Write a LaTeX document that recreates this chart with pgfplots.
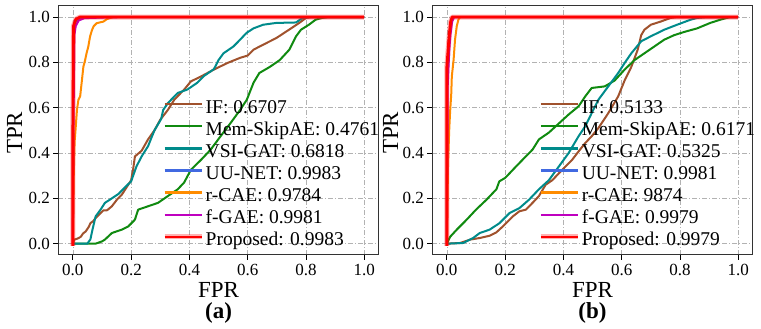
\documentclass[border=0pt]{standalone}
\usepackage{pgfplots}
\pgfplotsset{compat=1.18}
\usepackage{fontspec}
\setmainfont{Liberation Serif}
\definecolor{cIF}{HTML}{A0522D}
\definecolor{cMem}{HTML}{108A10}
\definecolor{cVSI}{HTML}{008B8B}
\definecolor{cUU}{HTML}{4169E1}
\definecolor{cCAE}{HTML}{FF8C00}
\definecolor{cGAE}{HTML}{BF00BF}
\definecolor{cPro}{HTML}{FF0000}
\pgfplotsset{
  rocax/.style={
    anchor=south west, scale only axis, width=320.5pt, height=249.3pt,
    xmin=-0.05, xmax=1.05, ymin=-0.05, ymax=1.05,
    xtick={0,0.2,0.4,0.6,0.8,1.0}, ytick={0,0.2,0.4,0.6,0.8,1.0},
    /pgf/number format/.cd, fixed, fixed zerofill, precision=1, assume math mode=true, /pgfplots/.cd,
    tick label style={font=\fontsize{17}{17}\selectfont},
    xticklabel style={anchor=base, yshift=-16pt},
    yticklabel style={anchor=east, xshift=0pt},
    tick align=outside, major tick length=5pt,
    xtick pos=bottom, ytick pos=left,
    tick style={black, line width=0.8pt},
    axis line style={black!80, line width=1pt},
    grid=major,
    grid style={black!30, line width=0.7pt, dash pattern=on 5pt off 2pt on 1pt off 2pt},
    xlabel={FPR}, ylabel={TPR},
    label style={font=\fontsize{23}{23}\selectfont},
    xlabel style={at={(axis description cs:0.5,-0.171)}, anchor=base, text depth=0pt},
    legend style={draw=none, fill=none, anchor=north west,
      font=\fontsize{19.5}{19.5}\selectfont, row sep=5.1pt, inner sep=0pt,
      nodes={inner sep=0pt, text height=13pt, text depth=4pt},
      /tikz/every odd column/.append style={column sep=1.5pt}},
    legend cell align=left,
    legend image code/.code={\draw[##1, line width=2.3pt] (0pt,4.5pt) -- (37pt,4.5pt);},
  },
  cv/.style={#1, line width=2pt, line join=round},
  pro/.style={cPro, line width=2.8pt, line join=round, preaction={draw, cPro, opacity=0.3, line width=5pt}},
  sublabel/.style={after end axis/.code={\node[anchor=base, text height=14pt, font=\fontsize{23}{23}\selectfont\bfseries] at (axis description cs:0.5,-0.253) {#1};}},
}
\begin{document}
\begin{tikzpicture}
\useasboundingbox (0pt,0pt) rectangle (761pt,329pt);
% ---------------- (a)
\begin{axis}[rocax, at={(58.3pt,74pt)},
  ylabel style={at={(axis description cs:-0.113,0.49)}, anchor=base},
  legend style={at={(axis description cs:0.3236,0.6217)}},
  sublabel={(a)}]
\addplot[cv=cIF] coordinates {(0,0) (0.005,0.018) (0.015,0.022) (0.027,0.03) (0.035,0.045) (0.044,0.054) (0.055,0.075) (0.06,0.09) (0.07,0.1) (0.078,0.113) (0.095,0.135) (0.105,0.147) (0.117,0.147) (0.134,0.165) (0.151,0.194) (0.168,0.216) (0.185,0.25) (0.2,0.28) (0.207,0.33) (0.213,0.385) (0.236,0.41) (0.258,0.46) (0.28,0.5) (0.3,0.547) (0.326,0.59) (0.348,0.635) (0.382,0.68) (0.405,0.716) (0.44,0.738) (0.484,0.768) (0.53,0.797) (0.574,0.82) (0.6,0.83) (0.62,0.856) (0.664,0.885) (0.698,0.907) (0.743,0.945) (0.777,0.974) (0.8,0.996) (0.82,1) (1,1)};
\addlegendentry{IF: 0.6707}
\addplot[cv=cMem] coordinates {(0,0) (0.078,0) (0.1,0.01) (0.11,0.018) (0.134,0.047) (0.168,0.062) (0.19,0.076) (0.213,0.106) (0.224,0.15) (0.258,0.165) (0.292,0.18) (0.326,0.21) (0.36,0.24) (0.382,0.27) (0.405,0.326) (0.44,0.37) (0.473,0.415) (0.507,0.474) (0.54,0.53) (0.574,0.59) (0.597,0.635) (0.62,0.71) (0.64,0.753) (0.676,0.78) (0.71,0.81) (0.743,0.856) (0.766,0.915) (0.783,0.944) (0.81,0.966) (0.833,0.988) (0.855,0.996) (0.878,1) (1,1)};
\addlegendentry{Mem-SkipAE: 0.4761}
\addplot[cv=cVSI] coordinates {(0,0) (0.05,0) (0.055,0.01) (0.06,0.018) (0.067,0.06) (0.078,0.12) (0.095,0.15) (0.11,0.18) (0.134,0.2) (0.157,0.22) (0.18,0.25) (0.2,0.275) (0.218,0.34) (0.236,0.385) (0.258,0.43) (0.28,0.5) (0.303,0.55) (0.31,0.59) (0.326,0.62) (0.36,0.665) (0.393,0.68) (0.427,0.71) (0.45,0.74) (0.484,0.77) (0.5,0.81) (0.517,0.84) (0.551,0.87) (0.574,0.9) (0.596,0.93) (0.62,0.95) (0.653,0.966) (0.698,0.974) (0.766,0.976) (0.788,0.996) (0.81,1) (1,1)};
\addlegendentry{VSI-GAT: 0.6818}
\addplot[cv=cUU] coordinates {(0,0) (0,0.5) (0.002,0.95) (0.01,0.98) (0.03,0.995) (0.05,0.998) (0.13,1) (1,1)};
\addlegendentry{UU-NET: 0.9983}
\addplot[cv=cCAE] coordinates {(0,0) (0.003,0.3) (0.006,0.45) (0.009,0.5) (0.014,0.59) (0.019,0.635) (0.025,0.65) (0.031,0.72) (0.036,0.78) (0.042,0.81) (0.047,0.84) (0.053,0.87) (0.059,0.914) (0.065,0.94) (0.071,0.959) (0.082,0.973) (0.105,0.98) (0.117,0.991) (0.134,0.998) (0.14,1) (1,1)};
\addlegendentry{r-CAE: 0.9784}
\addplot[cv=cGAE] coordinates {(0,0) (0.002,0.5) (0.005,0.92) (0.01,0.96) (0.02,0.985) (0.04,0.995) (0.13,0.999) (1,1)};
\addlegendentry{f-GAE: 0.9981}
\addplot[pro] coordinates {(0,-0.01) (0,0.5) (0.002,0.96) (0.01,0.99) (0.025,1) (1,1)};
\addlegendentry{Proposed: 0.9983}
\end{axis}
% ---------------- (b)
\begin{axis}[rocax, at={(432.3pt,74pt)},
  ylabel style={at={(axis description cs:-0.107,0.49)}, anchor=base},
  legend style={at={(axis description cs:0.33,0.6217)}},
  sublabel={(b)}]
\addplot[cv=cIF] coordinates {(0,0) (0.045,0.003) (0.08,0.018) (0.113,0.025) (0.147,0.035) (0.17,0.05) (0.192,0.076) (0.226,0.12) (0.249,0.143) (0.271,0.15) (0.294,0.18) (0.316,0.21) (0.339,0.26) (0.362,0.28) (0.384,0.31) (0.407,0.34) (0.43,0.37) (0.452,0.407) (0.475,0.444) (0.497,0.474) (0.52,0.51) (0.554,0.576) (0.588,0.65) (0.61,0.72) (0.633,0.78) (0.655,0.856) (0.667,0.92) (0.678,0.944) (0.7,0.966) (0.734,0.98) (0.768,0.996) (0.79,1) (1,1)};
\addlegendentry{IF: 0.5133}
\addplot[cv=cMem] coordinates {(0,0) (0.011,0.03) (0.034,0.062) (0.068,0.106) (0.1,0.15) (0.136,0.194) (0.17,0.24) (0.18,0.275) (0.2,0.29) (0.237,0.34) (0.271,0.385) (0.294,0.415) (0.316,0.46) (0.35,0.49) (0.384,0.53) (0.418,0.57) (0.452,0.606) (0.475,0.65) (0.497,0.687) (0.542,0.694) (0.576,0.72) (0.61,0.768) (0.644,0.81) (0.678,0.84) (0.712,0.87) (0.746,0.9) (0.78,0.92) (0.814,0.934) (0.859,0.95) (0.904,0.974) (0.938,0.988) (0.972,1) (1,1)};
\addlegendentry{Mem-SkipAE: 0.6171}
\addplot[cv=cVSI] coordinates {(0,0) (0.056,0.003) (0.09,0.025) (0.113,0.047) (0.147,0.062) (0.18,0.09) (0.215,0.135) (0.249,0.157) (0.282,0.194) (0.316,0.24) (0.35,0.28) (0.384,0.34) (0.418,0.4) (0.452,0.474) (0.475,0.518) (0.497,0.576) (0.52,0.635) (0.554,0.694) (0.588,0.753) (0.61,0.797) (0.633,0.84) (0.667,0.893) (0.7,0.915) (0.746,0.944) (0.79,0.966) (0.836,0.988) (0.859,0.996) (0.893,1) (1,1)};
\addlegendentry{VSI-GAT: 0.5325}
\addplot[cv=cUU] coordinates {(0,0) (0.001,0.7) (0.006,0.85) (0.01,0.92) (0.015,0.98) (0.02,1) (1,1)};
\addlegendentry{UU-NET: 0.9981}
\addplot[cv=cCAE] coordinates {(0,0) (0.004,0.35) (0.008,0.5) (0.011,0.58) (0.015,0.66) (0.017,0.738) (0.023,0.81) (0.028,0.9) (0.034,0.96) (0.04,0.99) (0.046,1) (1,1)};
\addlegendentry{r-CAE: 9874}
\addplot[cv=cGAE] coordinates {(0,0) (0.003,0.7) (0.008,0.85) (0.012,0.92) (0.018,0.98) (0.025,1) (1,1)};
\addlegendentry{f-GAE: 0.9979}
\addplot[pro] coordinates {(0,-0.01) (0,0.78) (0.004,0.85) (0.008,0.92) (0.013,0.98) (0.018,1) (1,1)};
\addlegendentry{Proposed: 0.9979}
\end{axis}
\end{tikzpicture}
\end{document}
